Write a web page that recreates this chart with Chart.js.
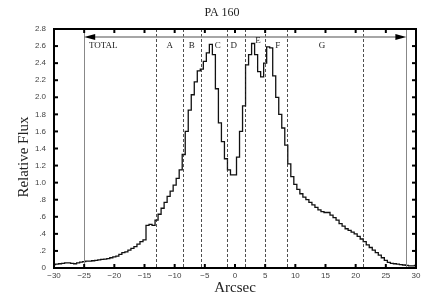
<!DOCTYPE html>
<html>
<head>
<meta charset="utf-8">
<script src="https://cdn.jsdelivr.net/npm/chart.js@4"></script>
<style>
  html, body { margin: 0; padding: 0; background: #fff; }
  #wrap { width: 436px; height: 300px; }
</style>
</head>
<body>
<div id="wrap"><canvas id="c" width="436" height="300"></canvas></div>
<script>
// arcsec positions (0.5" bins) and relative flux
const arcsec = [];
for (let i = 0; i <= 120; i++) arcsec.push(-30 + i * 0.5);

const flux = [
  0.04, 0.045, 0.05, 0.055, 0.06, 0.06, 0.055, 0.05, 0.06, 0.07,
  0.075, 0.08, 0.08, 0.085, 0.09, 0.095, 0.10, 0.105, 0.11, 0.12,
  0.13, 0.14, 0.16, 0.18, 0.19, 0.21, 0.23, 0.25, 0.28, 0.31,
  0.33, 0.50, 0.51, 0.50, 0.56, 0.63, 0.70, 0.77, 0.84, 0.90,
  0.97, 1.05, 1.15, 1.33, 1.60, 1.85, 2.03, 2.18, 2.31, 2.33,
  2.42, 2.52, 2.62, 2.50, 2.10, 1.70, 1.48, 1.28, 1.15, 1.09,
  1.09, 1.30, 1.60, 1.90, 2.38, 2.50, 2.63, 2.50, 2.30, 2.24,
  2.40, 2.59, 2.58, 2.25, 2.00, 1.80, 1.64, 1.44, 1.22, 1.07,
  0.98, 0.92, 0.87, 0.83, 0.80, 0.77, 0.74, 0.71, 0.68, 0.66,
  0.65, 0.65, 0.62, 0.59, 0.56, 0.52, 0.49, 0.46, 0.44, 0.42,
  0.40, 0.37, 0.34, 0.31, 0.27, 0.24, 0.21, 0.18, 0.15, 0.12,
  0.09, 0.065, 0.055, 0.05, 0.045, 0.04, 0.035, 0.03, 0.025, 0.025,
  0.03
];

// region boundaries (dashed) and total aperture (solid)
const regionEdges = [-13.1, -8.6, -5.7, -1.4, 1.6, 5.0, 8.7, 21.2];
const totalEdges = [-25, 28.4];
const regionNames = ['TOTAL', 'A', 'B', 'C', 'D', 'E', 'F', 'G'];
const regionLabelX = [-24.2, -10.8, -7.15, -2.85, -0.2, 3.8, 7.1, 14.4];
const regionLabelY = [2.6, 2.6, 2.6, 2.6, 2.6, 2.66, 2.6, 2.6];

const serif = '"Liberation Serif", "DejaVu Serif", serif';
const sans = '"Liberation Sans", Arial, sans-serif';

const extras = {
  id: 'extras',
  afterDatasetsDraw(chart) {
    const { ctx, chartArea: a, scales: { x, y } } = chart;
    ctx.save();

    // solid gray total bounds
    ctx.strokeStyle = '#888';
    ctx.lineWidth = 1;
    totalEdges.forEach(v => {
      const px = Math.round(x.getPixelForValue(v)) + 0.5;
      ctx.beginPath(); ctx.moveTo(px, a.top); ctx.lineTo(px, a.bottom); ctx.stroke();
    });

    // dashed region bounds
    ctx.strokeStyle = '#222';
    ctx.lineWidth = 0.8;
    ctx.setLineDash([3, 2]);
    regionEdges.forEach(v => {
      const px = Math.round(x.getPixelForValue(v)) + 0.5;
      ctx.beginPath(); ctx.moveTo(px, a.top); ctx.lineTo(px, a.bottom); ctx.stroke();
    });
    ctx.setLineDash([]);

    // double arrow over total aperture
    const ay = y.getPixelForValue(2.705);
    const x0 = x.getPixelForValue(totalEdges[0]);
    const x1 = x.getPixelForValue(totalEdges[1]);
    ctx.strokeStyle = '#888';
    ctx.lineWidth = 1.5;
    ctx.beginPath(); ctx.moveTo(x0 + 6, ay); ctx.lineTo(x1 - 6, ay); ctx.stroke();
    ctx.fillStyle = '#000';
    ctx.beginPath(); ctx.moveTo(x0, ay); ctx.lineTo(x0 + 11, ay - 3); ctx.lineTo(x0 + 11, ay + 3); ctx.closePath(); ctx.fill();
    ctx.beginPath(); ctx.moveTo(x1, ay); ctx.lineTo(x1 - 11, ay - 3); ctx.lineTo(x1 - 11, ay + 3); ctx.closePath(); ctx.fill();

    // region labels
    ctx.font = '9px ' + serif;
    ctx.fillStyle = '#222';
    ctx.textBaseline = 'middle';
    regionNames.forEach((n, i) => {
      ctx.textAlign = i === 0 ? 'left' : 'center';
      ctx.fillText(n, x.getPixelForValue(regionLabelX[i]), y.getPixelForValue(regionLabelY[i]));
    });

    // inward ticks on all four sides
    ctx.strokeStyle = '#000';
    ctx.lineWidth = 2;
    x.ticks.forEach(t => {
      const px = x.getPixelForValue(t.value);
      ctx.beginPath(); ctx.moveTo(px, a.bottom); ctx.lineTo(px, a.bottom - 4); ctx.stroke();
      ctx.beginPath(); ctx.moveTo(px, a.top); ctx.lineTo(px, a.top + 4); ctx.stroke();
    });
    y.ticks.forEach(t => {
      const py = y.getPixelForValue(t.value);
      ctx.beginPath(); ctx.moveTo(a.left, py); ctx.lineTo(a.left + 4, py); ctx.stroke();
      ctx.beginPath(); ctx.moveTo(a.right, py); ctx.lineTo(a.right - 4, py); ctx.stroke();
    });

    // frame
    ctx.lineWidth = 2;
    ctx.strokeRect(a.left, a.top, a.right - a.left, a.bottom - a.top);

    // title
    ctx.font = '12px ' + serif;
    ctx.fillStyle = '#222';
    ctx.textAlign = 'center';
    ctx.fillText('PA 160', 222, 13);

    // y axis title
    ctx.font = '15px ' + serif;
    ctx.translate(24, 157);
    ctx.rotate(-Math.PI / 2);
    ctx.fillText('Relative Flux', 0, 0);
    ctx.restore();
  }
};

new Chart(document.getElementById('c'), {
  type: 'line',
  data: {
    labels: arcsec,
    datasets: [{
      data: arcsec.map((v, i) => ({ x: v, y: flux[i] })),
      stepped: 'middle',
      borderColor: '#111',
      borderWidth: 1.3,
      pointRadius: 0,
      fill: false
    }]
  },
  options: {
    responsive: false,
    animation: false,
    layout: { padding: { top: 29, right: 20, left: 0, bottom: 0 } },
    plugins: { legend: { display: false }, tooltip: { enabled: false } },
    scales: {
      x: {
        type: 'linear',
        min: -30, max: 30,
        afterFit(s) { s.height = 32; },
        grid: { display: false, drawTicks: false, tickLength: 0 },
        border: { display: false },
        ticks: {
          stepSize: 5,
          padding: 3,
          color: '#444',
          font: { family: sans, size: 8 },
          maxRotation: 0,
          callback: v => (v < 0 ? '\u2212' + Math.abs(v) : String(v))
        },
        title: {
          display: true,
          text: 'Arcsec',
          color: '#222',
          font: { family: serif, size: 15 },
          padding: { top: 0, bottom: 3 }
        }
      },
      y: {
        min: 0, max: 2.8,
        afterFit(s) { s.width = 54; },
        grid: { display: false, drawTicks: false, tickLength: 0 },
        border: { display: false },
        ticks: {
          stepSize: 0.2,
          padding: 8,
          color: '#444',
          font: { family: sans, size: 8 },
          callback: v => {
            if (Math.abs(v) < 1e-6) return '0';
            const s = v.toFixed(1);
            return v < 1 ? s.replace(/^0/, '') : s;
          }
        }
      }
    }
  },
  plugins: [extras]
});
</script>
</body>
</html>
